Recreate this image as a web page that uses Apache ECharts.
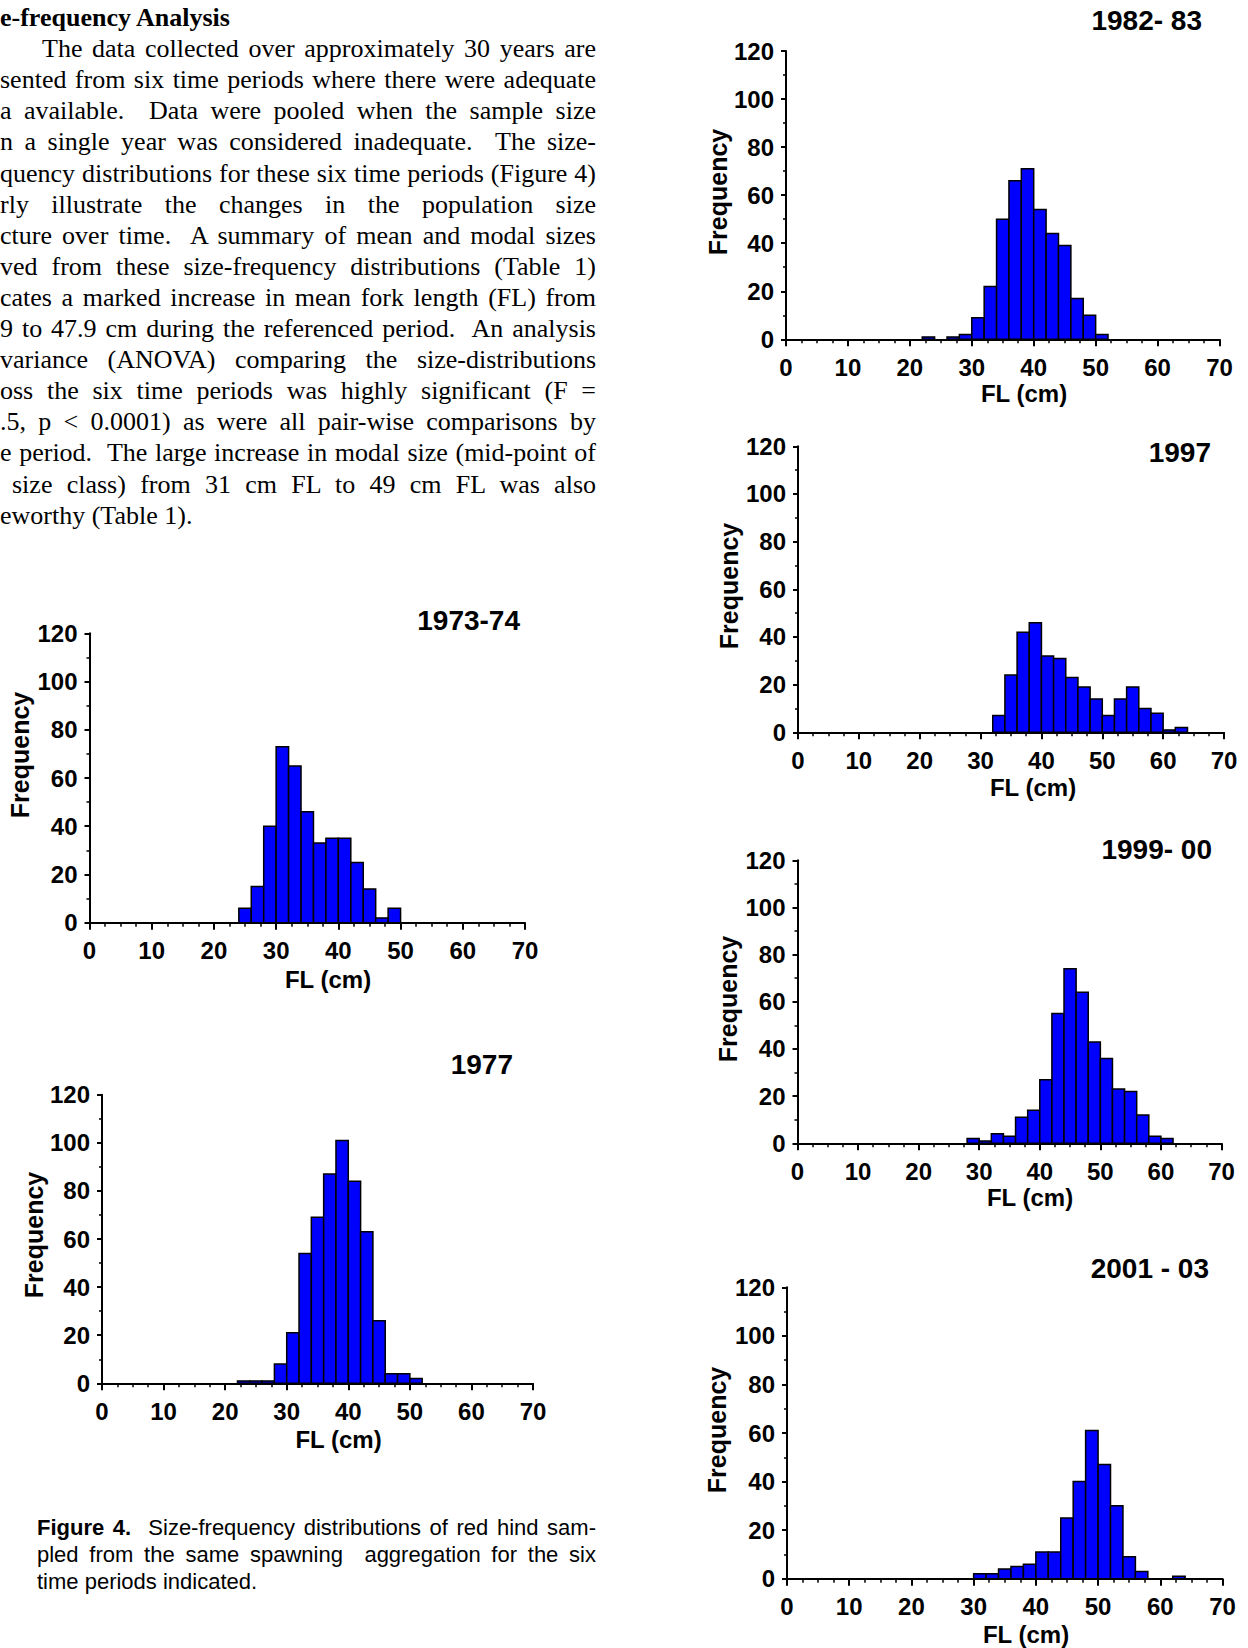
<!DOCTYPE html>
<html><head><meta charset="utf-8">
<script src="https://cdn.jsdelivr.net/npm/echarts@6/dist/echarts.min.js"></script>
<style>
html,body{margin:0;padding:0;background:#fff;width:1248px;height:1648px;overflow:hidden;}
#chart{position:absolute;left:0;top:0;width:1248px;height:1648px;}
.t{position:absolute;white-space:nowrap;color:#000;}
.para{font-family:"Liberation Serif","Times New Roman",serif;font-size:26px;line-height:30px;}
.cap{font-family:"Liberation Sans",Arial,sans-serif;font-size:22px;line-height:26px;}
</style></head><body>
<div id="chart"></div>
<div id="text"></div>
<script>
// ---- data (bin width 2 cm; start = lower edge of first bin) ----
const binWidth = 2;
const periods = ["1973-74", "1977", "1982- 83", "1997", "1999- 00", "2001 - 03"];
const start1973 = 24;
const counts1973 = [6, 15, 40, 73, 65, 46, 33, 35, 35, 25, 14, 2, 6];
const start1977 = 22;
const counts1977 = [1, 1, 1, 8, 21, 54, 69, 87, 101, 84, 63, 26, 4, 4, 2];
const start1982 = 22;
const counts1982 = [1, 0, 1, 2, 9, 22, 50, 66, 71, 54, 44, 39, 17, 10, 2];
const start1997 = 32;
const counts1997 = [7, 24, 42, 46, 32, 31, 23, 19, 14, 7, 14, 19, 10, 8, 1, 2];
const start1999 = 28;
const counts1999 = [2, 1, 4, 3, 11, 14, 27, 55, 74, 64, 43, 36, 23, 22, 12, 3, 2];
const start2001 = 30;
const counts2001 = [2, 2, 4, 5, 6, 11, 11, 25, 40, 61, 47, 30, 9, 3, 0, 0, 1];
const xTicks = [0, 10, 20, 30, 40, 50, 60, 70];
const yTicks = [0, 20, 40, 60, 80, 100, 120];
const xName = "FL (cm)";
const yName = "Frequency";

const paraLines = [
  "e-frequency Analysis",
  "The data collected over approximately 30 years are",
  "sented from six time periods where there were adequate",
  "a available.\u00a0 Data were pooled when the sample size",
  "n a single year was considered inadequate.\u00a0 The size-",
  "quency distributions for these six time periods (Figure 4)",
  "rly illustrate the changes in the population size",
  "cture over time.\u00a0 A summary of mean and modal sizes",
  "ved from these size-frequency distributions (Table 1)",
  "cates a marked increase in mean fork length (FL) from",
  "9 to 47.9 cm during the referenced period.\u00a0 An analysis",
  "variance (ANOVA) comparing the size-distributions",
  "oss the six time periods was highly significant (F =",
  ".5, p < 0.0001) as were all pair-wise comparisons by",
  "e period.\u00a0 The large increase in modal size (mid-point of",
  "size class) from 31 cm FL to 49 cm FL was also",
  "eworthy (Table 1)."
];
const captionBold = "Figure 4.";
const captionLines = [
  "\u00a0 Size-frequency distributions of red hind sam-",
  "pled from the same spawning\u00a0 aggregation for the six",
  "time periods indicated."
];

// ---- layout (pixels) ----
const layout = [
  {L: 89.5, R: 525,   T: 633.3,  B: 922.7,  tx: 520,  ty: 620,  fx: 20,    fy: 755,  lx: 328,   ly: 979},
  {L: 102,  R: 533,   T: 1094.7, B: 1383.3, tx: 513,  ty: 1064, fx: 33.5,  fy: 1235, lx: 338.5, ly: 1439},
  {L: 786,  R: 1219.5,T: 51,     B: 339.3,  tx: 1202, ty: 20,   fx: 718,   fy: 192,  lx: 1024,  ly: 393},
  {L: 798,  R: 1224,  T: 446.3,  B: 732.3,  tx: 1211, ty: 452,  fx: 728.5, fy: 586,  lx: 1033,  ly: 787},
  {L: 797.5,R: 1221.5,T: 860.3,  B: 1143.3, tx: 1212, ty: 849,  fx: 728,   fy: 999,  lx: 1030,  ly: 1197},
  {L: 787,  R: 1222.5,T: 1287.3, B: 1578.7, tx: 1209, ty: 1268, fx: 717,   fy: 1430, lx: 1026,  ly: 1634}
];
const starts = [start1973, start1977, start1982, start1997, start1999, start2001];
const countsAll = [counts1973, counts1977, counts1982, counts1997, counts1999, counts2001];

const FONT = '"Liberation Sans", Arial, sans-serif';
const grids = [], xAxes = [], yAxes = [], series = [], graphics = [];
layout.forEach((p, i) => {
  grids.push({left: p.L, top: p.T, width: p.R - p.L, height: p.B - p.T, containLabel: false});
  xAxes.push({
    gridIndex: i, type: 'value', min: xTicks[0], max: xTicks[xTicks.length - 1], interval: xTicks[1] - xTicks[0],
    axisLine: {show: true, onZero: false, lineStyle: {color: '#000', width: 2}},
    axisTick: {show: true, length: 7, lineStyle: {color: '#000', width: 2}},
    minorTick: {show: true, splitNumber: 4, length: 4, lineStyle: {color: '#000', width: 1.5}},
    splitLine: {show: false}, minorSplitLine: {show: false},
    axisLabel: {color: '#000', fontSize: 24, fontWeight: 'bold', fontFamily: FONT, margin: 16}
  });
  yAxes.push({
    gridIndex: i, type: 'value', min: yTicks[0], max: yTicks[yTicks.length - 1], interval: yTicks[1] - yTicks[0],
    axisLine: {show: true, onZero: false, lineStyle: {color: '#000', width: 2}},
    axisTick: {show: true, length: 5, lineStyle: {color: '#000', width: 2}},
    minorTick: {show: true, splitNumber: 2, length: 3, lineStyle: {color: '#000', width: 1.5}},
    splitLine: {show: false}, minorSplitLine: {show: false},
    axisLabel: {color: '#000', fontSize: 24, fontWeight: 'bold', fontFamily: FONT, margin: 12}
  });
  const data = [];
  countsAll[i].forEach((c, k) => {
    const x0 = starts[i] + k * binWidth;
    if (c > 0) data.push([x0, x0 + binWidth, c]);
  });
  series.push({
    type: 'custom', xAxisIndex: i, yAxisIndex: i, data: data, clip: false, silent: true,
    encode: {x: [0, 1], y: 2},
    renderItem: function (params, api) {
      const a = api.coord([api.value(0), api.value(2)]);
      const b = api.coord([api.value(1), 0]);
      return {type: 'rect', shape: {x: a[0], y: a[1], width: b[0] - a[0], height: b[1] - a[1]},
        style: {fill: '#0000ff', stroke: '#000', lineWidth: 1.5}};
    }
  });
  graphics.push({type: 'text', x: p.tx, y: p.ty, style: {text: periods[i], font: 'bold 28px ' + FONT, fill: '#000', align: 'right', verticalAlign: 'middle', textAlign: 'right', textVerticalAlign: 'middle'}});
  graphics.push({type: 'text', x: p.fx, y: p.fy, rotation: Math.PI / 2, style: {text: yName, font: 'bold 25px ' + FONT, fill: '#000', align: 'center', verticalAlign: 'middle', textAlign: 'center', textVerticalAlign: 'middle'}});
  graphics.push({type: 'text', x: p.lx, y: p.ly, style: {text: xName, font: 'bold 24px ' + FONT, fill: '#000', align: 'center', verticalAlign: 'middle', textAlign: 'center', textVerticalAlign: 'middle'}});
});

const chart = echarts.init(document.getElementById('chart'), null, {renderer: 'svg', width: 1248, height: 1648});
chart.setOption({
  animation: false, backgroundColor: '#fff',
  grid: grids, xAxis: xAxes, yAxis: yAxes, series: series, graphic: graphics
});

// ---- text blocks ----
const host = document.getElementById('text');
function addLine(txt, cls, left, centerY, half, justifyRight, bold, prefix) {
  const d = document.createElement('div');
  d.className = 't ' + cls;
  d.style.left = left + 'px';
  d.style.top = (centerY - half) + 'px';
  if (prefix) {
    const b = document.createElement('b');
    b.textContent = prefix;
    d.appendChild(b);
  }
  const s = document.createElement('span');
  s.textContent = txt;
  if (bold) s.style.fontWeight = 'bold';
  d.appendChild(s);
  host.appendChild(d);
  if (justifyRight != null) {
    const full = (prefix || '') + txt;
    const n = (full.match(/[ \u00a0]/g) || []).length;
    const w = d.getBoundingClientRect().width;
    if (n > 0) d.style.wordSpacing = ((justifyRight - left - w) / n) + 'px';
  }
}
const paraLeft = [0, 42, 0, 0, 0, 0, 0, 0, 0, 0, 0, 0, 0, 0, 0, 12, 0];
paraLines.forEach((t, i) => {
  const cy = 18 + 31.1 * i;
  const just = (i === 0 || i === paraLines.length - 1) ? null : 596;
  addLine(t, 'para', paraLeft[i], cy, 15, just, i === 0, null);
});
const capY = [1528, 1555, 1582];
captionLines.forEach((t, i) => {
  addLine(t, 'cap', 37, capY[i], 13, i < 2 ? 596 : null, false, i === 0 ? captionBold : null);
});
</script>
</body></html>
